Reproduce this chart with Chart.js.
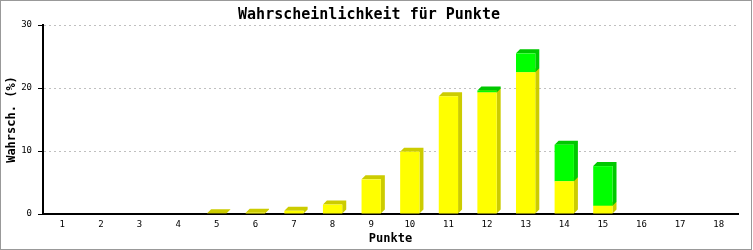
<!DOCTYPE html>
<html>
<head>
<meta charset="utf-8">
<script src="https://cdn.jsdelivr.net/npm/chart.js@4/dist/chart.umd.min.js"></script>
<style>
  html, body { margin: 0; padding: 0; background: #fff; }
  #wrap { width: 753px; height: 250px; }
</style>
</head>
<body>
<div id="wrap"><canvas id="punkteChart" width="753" height="250"></canvas></div>
<script>
const punkte = ["1","2","3","4","5","6","7","8","9","10","11","12","13","14","15","16","17","18"];
const gelb = [0, 0, 0, 0, 0.1, 0.2, 0.5, 1.5, 5.5, 9.9, 18.7, 19.3, 22.5, 5.2, 1.3, 0, 0, 0];
const gruen = [0, 0, 0, 0, 0, 0, 0, 0, 0, 0, 0, 0.3, 3.0, 5.8, 6.3, 0, 0, 0];
const yTicks = [0, 10, 20, 30];

const mono = "'DejaVu Sans Mono', 'Liberation Mono', monospace";

// fake 3d: dark side and top drawn behind each bar
const extrude = {
  id: "extrude",
  beforeDatasetsDraw(chart) {
    const ctx = chart.ctx;
    const d = 4;
    chart.data.datasets.forEach((ds, i) => {
      const meta = chart.getDatasetMeta(i);
      meta.data.forEach((bar, j) => {
        if (!ds.data[j]) return;
        const p = bar.getProps(["x", "y", "base", "width"], true);
        const l = p.x - p.width / 2, r = p.x + p.width / 2;
        ctx.save();
        ctx.fillStyle = ds.sideColor;
        ctx.beginPath();
        ctx.moveTo(l, p.y);
        ctx.lineTo(l + d, p.y - d);
        ctx.lineTo(r + d, p.y - d);
        ctx.lineTo(r + d, p.base - d);
        ctx.lineTo(r, p.base);
        ctx.lineTo(r, p.y);
        ctx.closePath();
        ctx.fill();
        ctx.restore();
      });
    });
  }
};

const frame = {
  id: "frame",
  afterDraw(chart) {
    const ctx = chart.ctx;
    ctx.save();
    ctx.strokeStyle = "#999999";
    ctx.lineWidth = 1;
    ctx.strokeRect(0.5, 0.5, chart.width - 2, chart.height - 1);
    ctx.restore();
  }
};

new Chart(document.getElementById("punkteChart").getContext("2d"), {
  type: "bar",
  data: {
    labels: punkte,
    datasets: [
      { label: "gelb", data: gelb, backgroundColor: "#ffff00", sideColor: "#cccc00", borderWidth: 0 },
      { label: "grün", data: gruen, backgroundColor: "#00ff00", sideColor: "#00c800", borderWidth: 0 }
    ]
  },
  options: {
    responsive: false,
    animation: false,
    events: [],
    layout: { padding: { left: 0, right: 15, top: 0, bottom: 0 }, autoPadding: false },
    datasets: { bar: { barPercentage: 0.5, categoryPercentage: 1.0 } },
    scales: {
      x: {
        stacked: true,
        afterFit: s => { s.height = 36; },
        grid: { display: false, drawTicks: false },
        border: { display: true, color: "#000", width: 2 },
        ticks: { color: "#000", font: { family: mono, size: 9 }, padding: 5, maxRotation: 0, autoSkip: false },
        title: { display: true, text: "Punkte", color: "#000", font: { family: mono, size: 12, weight: "bold" }, padding: { top: 0, bottom: 4 } }
      },
      y: {
        stacked: true,
        min: 0,
        max: 30,
        afterFit: s => { s.width = 43; },
        afterBuildTicks: s => { s.ticks = yTicks.map(v => ({ value: v })); },
        grid: { color: "#c0c0c0", tickColor: "#000", tickLength: 5, tickBorderDash: [], drawOnChartArea: true },
        border: { display: true, color: "#000", width: 2, dash: [2, 3] },
        ticks: { color: "#000", font: { family: mono, size: 9 }, padding: 6 },
        title: { display: true, text: "Wahrsch. (%)", color: "#000", font: { family: mono, size: 12, weight: "bold" }, padding: { top: 5, bottom: 0 } }
      }
    },
    plugins: {
      legend: { display: false },
      tooltip: { enabled: false },
      title: {
        display: true,
        text: "Wahrscheinlichkeit für Punkte",
        color: "#000",
        font: { family: mono, size: 15, weight: "bold" },
        padding: { top: 6, bottom: 1 }
      }
    }
  },
  plugins: [extrude, frame]
});
</script>
</body>
</html>
